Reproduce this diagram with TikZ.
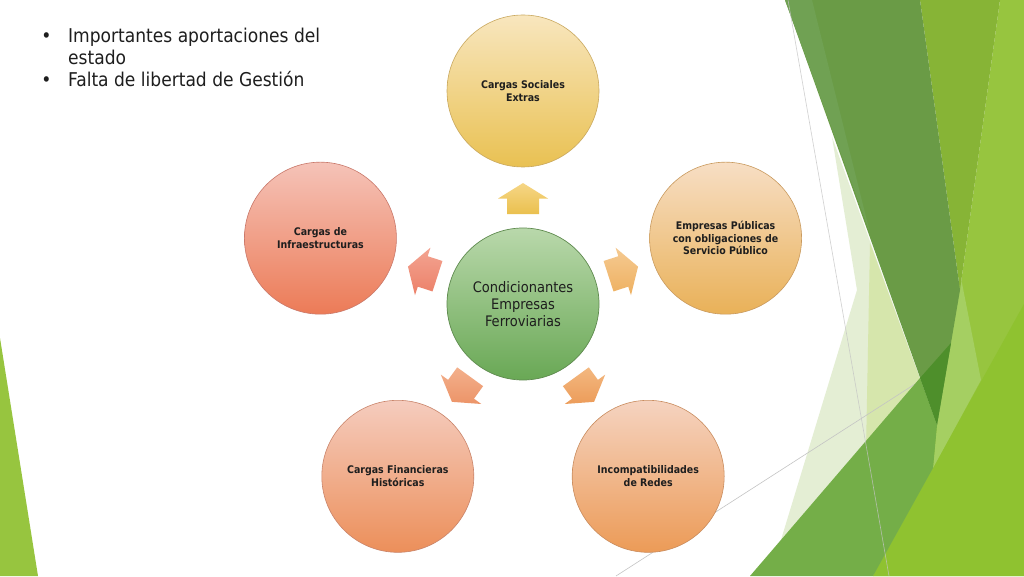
\documentclass[tikz,border=0pt]{standalone}
\usepackage{fontspec}
\setmainfont{DejaVu Sans Condensed}
\usetikzlibrary{calc}
\definecolor{txt}{HTML}{1E1E1E}
\definecolor{gpale}{HTML}{E4EED4}
\definecolor{gsat}{HTML}{D6E6AC}
\definecolor{gbright}{HTML}{97C53F}
\definecolor{gbrightlow}{HTML}{8FC230}
\definecolor{glight}{HTML}{A5CF62}
\definecolor{golive}{HTML}{87B436}
\definecolor{gdark}{HTML}{6A9B46}
\definecolor{gstrip}{HTML}{70A153}
\definecolor{gmed}{HTML}{74AE48}
\definecolor{govl}{HTML}{4E8F2B}
\definecolor{gline}{HTML}{C4C4C4}
% circles
\definecolor{cT}{HTML}{B9D8AB}\definecolor{cB}{HTML}{69A855}\definecolor{cD}{HTML}{5E8A4E}
\definecolor{aT}{HTML}{F8E6BE}\definecolor{aB}{HTML}{E9C152}\definecolor{aD}{HTML}{C9A85E}
\definecolor{bT}{HTML}{F7DEC4}\definecolor{bB}{HTML}{E9B158}\definecolor{bD}{HTML}{C99A5E}
\definecolor{dT}{HTML}{F5D3C0}\definecolor{dB}{HTML}{EC9B57}\definecolor{dD}{HTML}{C98C5E}
\definecolor{eT}{HTML}{F5CCBE}\definecolor{eB}{HTML}{EC8F5A}\definecolor{eD}{HTML}{C9846A}
\definecolor{fT}{HTML}{F5C3B8}\definecolor{fB}{HTML}{EC7B57}\definecolor{fD}{HTML}{C9786A}
% arrows
\definecolor{r1T}{RGB}{246,214,134}\definecolor{r1B}{RGB}{234,192,78}
\definecolor{r2T}{RGB}{245,202,146}\definecolor{r2B}{RGB}{238,176,96}
\definecolor{r3T}{RGB}{243,184,128}\definecolor{r3B}{RGB}{236,156,90}
\definecolor{r4T}{RGB}{243,176,140}\definecolor{r4B}{RGB}{236,148,104}
\definecolor{r5T}{RGB}{243,164,146}\definecolor{r5B}{RGB}{236,128,104}
\tikzset{
  outer/.style={circle, minimum size=152pt, inner sep=0pt, line width=0.6pt,
    align=center, text=txt, font=\bfseries\fontsize{10.5}{12.5}\selectfont},
  centre/.style={circle, minimum size=152pt, inner sep=0pt, line width=0.7pt,
    align=center, text=txt, font=\fontsize{14.5}{17}\selectfont},
  bullettext/.style={anchor=base west, text=txt, inner sep=0pt,
    font=\fontsize{19}{22}\selectfont},
  bulletmark/.style={anchor=base, text=txt, inner sep=0pt, font=\fontsize{19}{22}\selectfont},
}
\newcommand{\blockarrow}[4]{% position, angle, top colour, bottom colour
  \begin{scope}[shift={#1}, rotate=#2]
    \shade[top color=#3, bottom color=#4]
      (-15.5,-16) -- (0,-16) -- (0,-25) -- (15.5,0) -- (0,25) -- (0,16) -- (-15.5,16) -- cycle;
  \end{scope}}
\begin{document}
\begin{tikzpicture}[x=1pt,y=1pt]
\useasboundingbox (0,0) rectangle (1024,576);
\fill[white] (0,0) rectangle (1024,576);
% ---- decoration ----
\fill[gbright] (0,238) -- (38,0) -- (0,0) -- cycle;
\fill[gpale] (832,439) -- (857,286) -- (770,0) -- (873,0) -- (937,151) -- cycle;
\fill[gsat] (870,333) -- (937,151) -- (866,126) -- cycle;
\draw[gline, line width=0.6pt] (616,0) -- (1024,262);
\fill[gbright] (1000,576) -- (1024,576) -- (1024,0) -- (873,0) -- (937,151) -- (960,286) -- cycle;
\fill[gbrightlow] (873,0) -- (1024,272) -- (1024,0) -- cycle;
\fill[glight] (960,303) -- (981,196) -- (933,108) -- (937,151) -- cycle;
\fill[golive] (920,576) -- (1000,576) -- (960,286) -- cycle;
\fill[gdark] (785,576) -- (920,576) -- (960,286) -- (937,151) -- cycle;
\fill[gstrip] (785,576) -- (812,576) -- (870,343) -- cycle;
\fill[gmed] (750,0) -- (920,198) -- (937,151) -- (933,108) -- (873,0) -- cycle;
\fill[govl] (920,198) -- (951,233) -- (937,151) -- cycle;
\draw[gline, line width=0.6pt, opacity=0.8] (788,576) -- (889,0);
% ---- bullets ----
\node[bulletmark] (b1) at (46.5,533) {•};
\node[bullettext] (t1) at (68,533) {Importantes aportaciones del};
\node[bullettext] (t1b) at (68,511) {estado};
\node[bulletmark] (b2) at (46.5,489) {•};
\node[bullettext] (t2) at (68,489) {Falta de libertad de Gestión};
% ---- diagram ----
\node[centre, top color=cT, bottom color=cB, draw=cD] (c) at (523,272)
  {Condicionantes\\Empresas\\Ferroviarias};
\node[outer, top color=aT, bottom color=aB, draw=aD] (n1) at ($(c)+(90:213)$)
  {Cargas Sociales\\Extras};
\node[outer, top color=bT, bottom color=bB, draw=bD] (n2) at ($(c)+(18:213)$)
  {Empresas Públicas\\con obligaciones de\\Servicio Público};
\node[outer, top color=dT, bottom color=dB, draw=dD] (n3) at ($(c)+(-54:213)$)
  {Incompatibilidades\\de Redes};
\node[outer, top color=eT, bottom color=eB, draw=eD] (n4) at ($(c)+(-126:213)$)
  {Cargas Financieras\\Históricas};
\node[outer, top color=fT, bottom color=fB, draw=fD] (n5) at ($(c)+(162:213)$)
  {Cargas de\\Infraestructuras};
\coordinate (a1) at ($(c)!0.495!(n1)$);
\coordinate (a2) at ($(c)!0.495!(n2)$);
\coordinate (a3) at ($(c)!0.495!(n3)$);
\coordinate (a4) at ($(c)!0.495!(n4)$);
\coordinate (a5) at ($(c)!0.495!(n5)$);
\blockarrow{(a1)}{90}{r1T}{r1B}
\blockarrow{(a2)}{18}{r2T}{r2B}
\blockarrow{(a3)}{-54}{r3T}{r3B}
\blockarrow{(a4)}{-126}{r4T}{r4B}
\blockarrow{(a5)}{162}{r5T}{r5B}
\end{tikzpicture}
\end{document}
